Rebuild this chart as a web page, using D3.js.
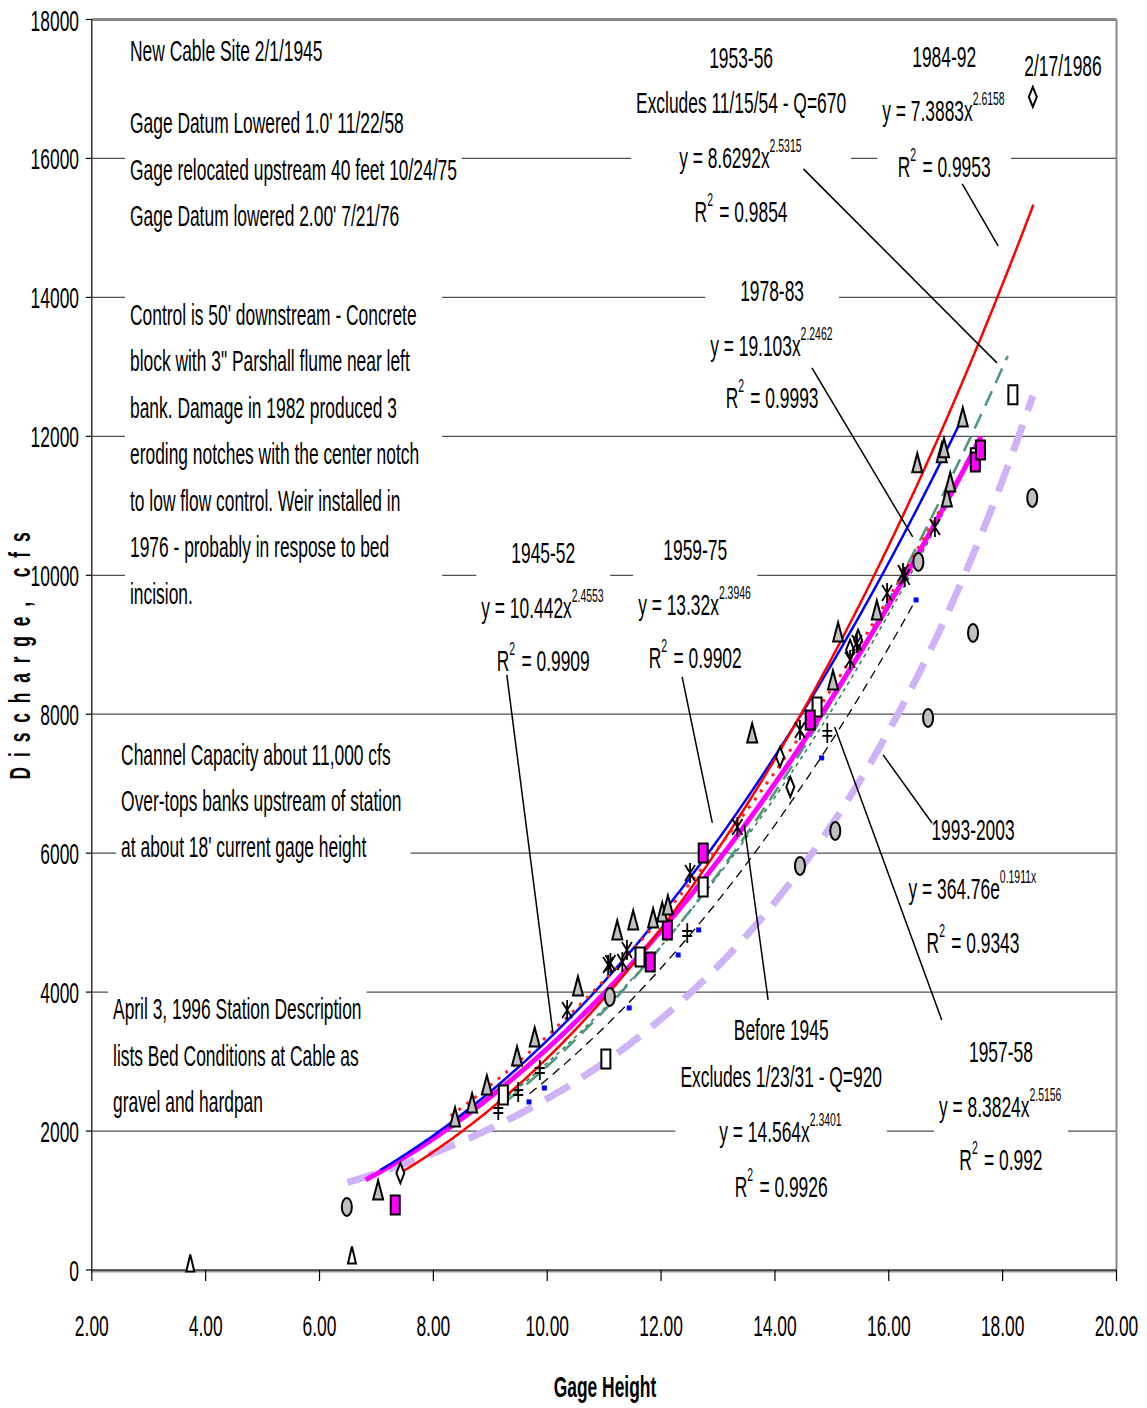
<!DOCTYPE html>
<html>
<head>
<meta charset="utf-8">
<script src="https://cdn.jsdelivr.net/npm/d3@7"></script>
<style>
  body { margin: 0; background: #fff; }
  svg { display: block; }
  text { font-family: "Liberation Sans", Arial, sans-serif; fill: #000; }
</style>
</head>
<body>
<div id="chart"></div>
<script>
((() => {

  // ---- data ----
  let xTicks = [2, 4, 6, 8, 10, 12, 14, 16, 18, 20];
  let yTicks = [0, 2000, 4000, 6000, 8000, 10000, 12000, 14000, 16000, 18000];

  // gage height, discharge
  let before1945 = [[7.33, 936], [11.81, 4434], [12.11, 4895], [12.74, 6003], [14.62, 7918], [17.52, 11632], [17.61, 11805]];
  let p1945_52 = [[9.23, 2519], [11.03, 3038], [11.63, 4506], [12.74, 5514], [14.74, 8105], [17.52, 11690], [18.18, 12597]];
  let p1953_56 = [[9.14, 2303], [9.49, 2562], [9.87, 2879], [12.46, 4851], [14.92, 7731]];
  let p1957_58 = [[9.68, 2419], [9.95, 2620], [11.44, 3772], [12.30, 4535], [12.66, 4895], [14.82, 7371], [16.48, 9645]];
  let p1959_75 = [[7.03, 1152], [8.38, 2203], [8.68, 2404], [8.94, 2663], [9.47, 3081], [9.78, 3354], [10.54, 4088],
    [11.23, 4895], [11.51, 5039], [11.86, 5067], [12.02, 5154], [12.12, 5255], [13.60, 7731], [15.02, 8494],
    [15.11, 9185], [15.79, 9501], [16.50, 11618], [16.93, 11762], [16.97, 11834], [17.02, 11128], [17.08, 11344], [17.30, 12280]];
  let p1978_83 = [[10.35, 3743], [11.07, 4391], [11.11, 4420], [11.32, 4434], [11.40, 4607], [12.51, 5715], [13.34, 6377],
    [14.44, 7774], [15.32, 8782], [15.44, 9026], [15.97, 9746], [16.25, 10034], [16.28, 9977], [16.81, 10696]];
  let p1984_92 = [[7.42, 1396], [14.09, 7385], [14.27, 6953], [15.32, 8926], [15.46, 9069]];
  let p1993_03 = [[6.48, 907], [11.10, 3930], [14.44, 5816], [15.06, 6320], [16.52, 10192], [16.69, 7946], [17.48, 9170], [18.52, 11114]];
  let pLowFlow = [[3.73, 101], [6.57, 216]];
  let p1986 = [[18.53, 16886]];

  // trend lines as printed on the chart: [a, b, from, to]
  let fitBefore1945 = [14.564, 2.3401, 6.81, 17.62];
  let fit1945_52 = [10.442, 2.4553, 9.2, 17.6];
  let fit1953_56 = [8.6292, 2.5315, 9.3, 18.09];
  let fit1957_58 = [8.3824, 2.5156, 9.69, 16.47];
  let fit1959_75 = [13.32, 2.3946, 7.07, 17.32];
  let fit1978_83 = [19.103, 2.2462, 8.3, 16.9];
  let fit1984_92 = [7.3883, 2.6158, 7.39, 18.54];
  let fit1993_03 = [364.76, 0.1911, 6.49, 18.53]; // exponential

  // text blocks: anchor point in data units, line offsets in px
  let notes = [
    { x: 2.671, y: 17563, anchor: "start", box: true, lines: [[0, "New Cable Site 2/1/1945"], [72, "Gage Datum Lowered 1.0' 11/22/58"], [119, "Gage relocated upstream 40 feet 10/24/75"], [165, "Gage Datum lowered 2.00' 7/21/76"]] },
    { x: 2.671, y: 13763, anchor: "start", box: true, padR: 18, lines: [[0, "Control is 50' downstream - Concrete"], [46.5, "block with 3\" Parshall flume near left"], [93, "bank. Damage in 1982 produced 3"], [139.5, "eroding notches with the center notch"], [186, "to low flow control. Weir installed in"], [232.5, "1976 - probably in respose to bed"], [279, "incision."]] },
    { x: 2.515, y: 7428, anchor: "start", box: true, padR: 4, lines: [[0, "Channel Capacity about 11,000 cfs"], [46, "Over-tops banks upstream of station"], [92, "at about 18' current gage height"]] },
    { x: 2.373, y: 3772, anchor: "start", box: true, lines: [[0, "April 3, 1996 Station Description"], [47, "lists Bed Conditions at Cable as"], [93, "gravel and hardpan"]] },
    { x: 13.405, y: 17462, anchor: "middle", box: true, lines: [[0, "1953-56"], [45, "Excludes 11/15/54 - Q=670"], [100, "y = 8.6292x^{2.5315}"], [154, "R^{2} = 0.9854"]] },
    { x: 16.973, y: 17477, anchor: "middle", box: true, lines: [[0, "1984-92"], [54, "y = 7.3883x^{2.6158}"], [110, "R^{2} = 0.9953"]] },
    { x: 19.06, y: 17347, anchor: "middle", box: true, lines: [[0, "2/17/1986"]] },
    { x: 13.95, y: 14108, anchor: "middle", box: true, lines: [[0, "1978-83"], [55, "y = 19.103x^{2.2462}"], [107, "R^{2} = 0.9993"]] },
    { x: 9.93, y: 10336, anchor: "middle", box: true, lines: [[0, "1945-52"], [55, "y = 10.442x^{2.4553}"], [108, "R^{2} = 0.9909"]] },
    { x: 12.60, y: 10380, anchor: "middle", box: true, lines: [[0, "1959-75"], [55, "y = 13.32x^{2.3946}"], [108, "R^{2} = 0.9902"]] },
    { x: 17.48, y: 6349, anchor: "middle", box: false, lines: [[0, "1993-2003"], [59, "y = 364.76e^{0.1911x}"], [113, "R^{2} = 0.9343"]] },
    { x: 14.11, y: 3469, anchor: "middle", box: true, lines: [[0, "Before 1945"], [47, "Excludes 1/23/31 - Q=920"], [102, "y = 14.564x^{2.3401}"], [157, "R^{2} = 0.9926"]] },
    { x: 17.97, y: 3153, anchor: "middle", box: true, lines: [[0, "1957-58"], [55, "y = 8.3824x^{2.5156}"], [108, "R^{2} = 0.992"]] }
  ];

  // leader lines from labels to curves
  let leaders = [
    [[14.50, 15850], [17.90, 13057]],
    [[17.29, 15634], [17.92, 14741]],
    [[14.65, 12985], [16.42, 10552]],
    [[9.29, 8566], [10.10, 3412]],
    [[12.37, 8537], [12.90, 6435]],
    [[16.76, 6435], [15.90, 7414]],
    [[13.88, 3887], [13.46, 6406]],
    [[16.93, 3599], [15.05, 7817]]
  ];

  let width = 1147;
  let height = 1408;
  let sx = 0.58; // narrow lettering

  let svg = d3.select("#chart").append("svg")
    .attr("width", width)
    .attr("height", height);

  let x = d3.scaleLinear().domain([2, 20]).range([91.8, 1116.5]);
  let y = d3.scaleLinear().domain([0, 18000]).range([1270, 19.5]);

  // gridlines
  svg.append("g")
    .selectAll("line")
    .data(yTicks.filter(d => d > 0 && d < 18000))
    .enter()
    .append("line")
    .attr("x1", x(2)).attr("x2", x(20))
    .attr("y1", d => y(d)).attr("y2", d => y(d))
    .attr("stroke", "#505050")
    .attr("stroke-width", 1.2);

  // plot border top/right
  svg.append("line").attr("x1", x(2)).attr("x2", x(20)).attr("y1", y(18000)).attr("y2", y(18000))
    .attr("stroke", "#8a8a8a").attr("stroke-width", 3);
  svg.append("line").attr("x1", x(20)).attr("x2", x(20)).attr("y1", y(18000)).attr("y2", y(0))
    .attr("stroke", "#8a8a8a").attr("stroke-width", 2);

  // axes
  svg.append("line").attr("x1", x(2)).attr("x2", x(20)).attr("y1", y(0) + 1).attr("y2", y(0) + 1)
    .attr("stroke", "#9a9a9a").attr("stroke-width", 3);
  svg.append("line").attr("x1", x(2)).attr("x2", x(20)).attr("y1", y(0)).attr("y2", y(0))
    .attr("stroke", "#000").attr("stroke-width", 1.2);
  svg.append("line").attr("x1", x(2)).attr("x2", x(2)).attr("y1", y(18000)).attr("y2", y(0))
    .attr("stroke", "#000").attr("stroke-width", 1.2);

  svg.append("g").selectAll("line").data(yTicks).enter().append("line")
    .attr("x1", x(2) - 6).attr("x2", x(2))
    .attr("y1", d => y(d)).attr("y2", d => y(d))
    .attr("stroke", "#000").attr("stroke-width", 1.2);
  svg.append("g").selectAll("line").data(xTicks).enter().append("line")
    .attr("x1", d => x(d)).attr("x2", d => x(d))
    .attr("y1", y(0)).attr("y2", y(0) + 11)
    .attr("stroke", "#000").attr("stroke-width", 1.2);

  // tick labels
  svg.append("g").selectAll("text").data(yTicks).enter().append("text")
    .attr("transform", d => "translate(79," + (y(d) + 11) + ") scale(" + sx + ",1)")
    .attr("text-anchor", "end")
    .style("font-size", "30px")
    .text(d => d);
  svg.append("g").selectAll("text").data(xTicks).enter().append("text")
    .attr("transform", d => "translate(" + x(d) + ",1336) scale(" + sx + ",1)")
    .attr("text-anchor", "middle")
    .style("font-size", "30px")
    .text(d3.format(".2f"));

  // axis titles
  svg.append("text")
    .attr("transform", "translate(605,1397) scale(" + sx + ",1)")
    .attr("text-anchor", "middle")
    .style("font-size", "30px").style("font-weight", "bold")
    .text("Gage Height");
  svg.append("text")
    .attr("transform", "translate(30,651) rotate(-90) scale(" + sx + ",1)")
    .attr("text-anchor", "middle")
    .style("font-size", "30px").style("font-weight", "bold")
    .style("letter-spacing", "17px")
    .text("Discharge, cfs");

  // writes a line, "^{...}" is a superscript
  function writeLine(textSel, str) {
    let parts = str.split(/(\^\{[^}]*\})/).filter(s => s.length);
    parts.forEach(p => {
      if (p.startsWith("^{")) {
        textSel.append("tspan").attr("dy", -16).style("font-size", "18px").text(p.slice(2, -1));
        textSel.append("tspan").attr("dy", 16).text("\u200a");
      } else {
        textSel.append("tspan").text(p);
      }
    });
  }

  // text blocks with white boxes over the gridlines
  notes.forEach(n => {
    let g = svg.append("g");
    n.lines.forEach(l => {
      let t = g.append("text")
        .attr("transform", "translate(" + x(n.x) + "," + (y(n.y) + l[0] + 11) + ") scale(" + sx + ",1)")
        .attr("text-anchor", n.anchor)
        .style("font-size", "30px");
      writeLine(t, l[1]);
    });
    if (n.box) {
      let bb = g.node().getBBox();
      g.insert("rect", ":first-child")
        .attr("x", bb.x - 5).attr("y", bb.y - 3)
        .attr("width", bb.width + 10 + (n.padR || 0)).attr("height", bb.height + 6)
        .attr("fill", "#fff");
    }
  });

  // trend curves
  let line = d3.line().x(d => x(d[0])).y(d => y(d[1]));
  function powerCurve(f) {
    return d3.range(f[2], f[3], 0.05).concat([f[3]]).map(v => [v, f[0] * Math.pow(v, f[1])]);
  }
  function expCurve(f) {
    return d3.range(f[2], f[3], 0.05).concat([f[3]]).map(v => [v, f[0] * Math.exp(f[1] * v)]);
  }

  let curves = svg.append("g").attr("fill", "none");
  curves.append("path").attr("d", line(expCurve(fit1993_03)))
    .attr("stroke", "#cfb3f6").attr("stroke-width", 7).attr("stroke-dasharray", "28,15");
  curves.append("path").attr("d", line(powerCurve(fit1945_52)))
    .attr("stroke", "#2f7a58").attr("stroke-width", 1.5).attr("stroke-dasharray", "4,4");
  curves.append("path").attr("d", line(powerCurve(fit1953_56)))
    .attr("stroke", "#4f9a78").attr("stroke-width", 2.6).attr("stroke-dasharray", "16,9");
  curves.append("path").attr("d", line(powerCurve(fit1957_58)))
    .attr("stroke", "#000").attr("stroke-width", 1.3).attr("stroke-dasharray", "9,6");
  curves.append("path").attr("d", line(powerCurve(fitBefore1945)))
    .attr("stroke", "#ff00ff").attr("stroke-width", 5);
  curves.append("path").attr("d", line(powerCurve(fit1959_75)))
    .attr("stroke", "#0000ff").attr("stroke-width", 2.5);
  curves.append("path").attr("d", line(powerCurve(fit1984_92)))
    .attr("stroke", "#ff0000").attr("stroke-width", 2.5);
  curves.append("path").attr("d", line(powerCurve(fit1978_83)))
    .attr("stroke", "#ff2020").attr("stroke-width", 3).attr("stroke-dasharray", "3,7");

  // markers
  let pts = svg.append("g").attr("stroke-linejoin", "miter");
  function place(data) {
    return pts.append("g").selectAll("path").data(data).enter().append("path")
      .attr("transform", d => "translate(" + x(d[0]) + "," + y(d[1]) + ")");
  }
  let tri = "M0,-9.5L5,9.5L-5,9.5Z";
  place(p1993_03).attr("d", "M0,-9A5,9 0 1,1 0,9A5,9 0 1,1 0,-9Z")
    .attr("fill", "#c0c0c0").attr("stroke", "#000").attr("stroke-width", 2);
  place(p1945_52).attr("d", "M-4.5,-9.5H4.5V9.5H-4.5Z")
    .attr("fill", "#fff").attr("stroke", "#000").attr("stroke-width", 2);
  place(before1945).attr("d", "M-4.5,-9.5H4.5V9.5H-4.5Z")
    .attr("fill", "#ff00ff").attr("stroke", "#000").attr("stroke-width", 2);
  place(p1959_75).attr("d", tri)
    .attr("fill", "#c0c0c0").attr("stroke", "#000").attr("stroke-width", 2);
  place(pLowFlow).attr("d", "M0,-8.5L4,8.5L-4,8.5Z")
    .attr("fill", "#fff").attr("stroke", "#000").attr("stroke-width", 2);
  place(p1984_92.concat(p1986)).attr("d", "M0,-10L4,0L0,10L-4,0Z")
    .attr("fill", "#fff").attr("stroke", "#000").attr("stroke-width", 2);
  place(p1957_58).attr("d", "M-2.5,-2.5H2.5V2.5H-2.5Z").attr("fill", "#0000ff");
  place(p1978_83).attr("d", "M0,-10V10M-5,-8L5,8M5,-8L-5,8")
    .attr("fill", "none").attr("stroke", "#000").attr("stroke-width", 1.8);
  place(p1953_56).attr("d", "M0,-10V10M-5,-2H5M-5,3H5")
    .attr("fill", "none").attr("stroke", "#000").attr("stroke-width", 1.8);

  // leader lines
  svg.append("g").selectAll("line").data(leaders).enter().append("line")
    .attr("x1", d => x(d[0][0])).attr("y1", d => y(d[0][1]))
    .attr("x2", d => x(d[1][0])).attr("y2", d => y(d[1][1]))
    .attr("stroke", "#000").attr("stroke-width", 1.5);

})());
</script>
</body>
</html>
